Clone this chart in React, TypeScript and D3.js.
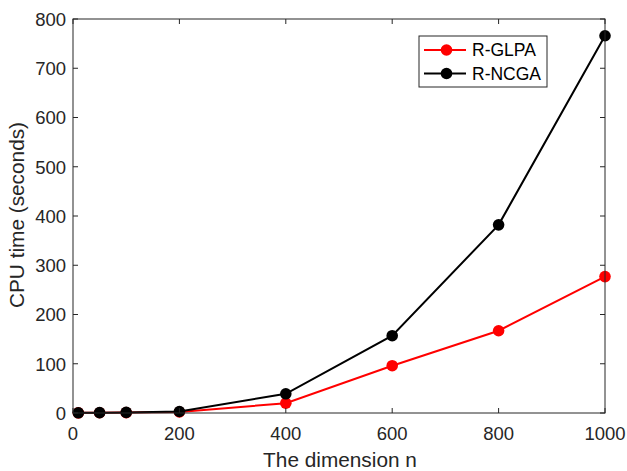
import React from 'react';
import * as d3 from 'd3';

const dims = [10, 50, 100, 200, 400, 600, 800, 1000];
const glpa = [0.3, 0.5, 0.8, 2, 20, 96, 167, 277];
const ncga = [0.4, 0.7, 1.2, 3, 39, 157, 382, 766];
const xTicks = [0, 200, 400, 600, 800, 1000];
const yTicks = [0, 100, 200, 300, 400, 500, 600, 700, 800];

const series = [
  { name: 'R-GLPA', color: '#ff0000', values: glpa },
  { name: 'R-NCGA', color: '#000000', values: ncga },
];

const W = 627;
const H = 471;
const margin = { left: 73, right: 22, top: 19, bottom: 58 };
const axisColor = '#262626';
const font = 'Liberation Sans, Arial, Helvetica, sans-serif';

export default function App() {
  const x = d3.scaleLinear().domain([0, 1000]).range([margin.left, W - margin.right]);
  const y = d3.scaleLinear().domain([0, 800]).range([H - margin.bottom, margin.top]);
  const line = d3
    .line<number>()
    .x((d, i) => x(dims[i]))
    .y(d => y(d));

  const x0 = x(0), x1 = x(1000), y0 = y(0), y1 = y(800);
  const tick = 5;

  return (
    <svg
      width={W}
      height={H}
      style={{ position: 'absolute', left: 0, top: 0, background: '#fff' }}
      fontFamily={font}
    >
      <rect x={0} y={0} width={W} height={H} fill="#fff" />
      {series.map(s => (
        <g key={s.name}>
          <path d={line(s.values) || ''} fill="none" stroke={s.color} strokeWidth={2} />
          {s.values.map((v, i) => (
            <circle key={i} cx={x(dims[i])} cy={y(v)} r={5.8} fill={s.color} />
          ))}
        </g>
      ))}
      <rect x={x0} y={y1} width={x1 - x0} height={y0 - y1} fill="none" stroke={axisColor} strokeWidth={1} />
      {xTicks.map(t => (
        <g key={t}>
          <line x1={x(t)} x2={x(t)} y1={y0} y2={y0 - tick} stroke={axisColor} />
          <line x1={x(t)} x2={x(t)} y1={y1} y2={y1 + tick} stroke={axisColor} />
          <text x={x(t)} y={y0 + 27} textAnchor="middle" fontSize={18.5} fill={axisColor}>
            {t}
          </text>
        </g>
      ))}
      {yTicks.map(t => (
        <g key={t}>
          <line x1={x0} x2={x0 + tick} y1={y(t)} y2={y(t)} stroke={axisColor} />
          <line x1={x1} x2={x1 - tick} y1={y(t)} y2={y(t)} stroke={axisColor} />
          <text x={x0 - 7} y={y(t) + 6.8} textAnchor="end" fontSize={18.5} fill={axisColor}>
            {t}
          </text>
        </g>
      ))}
      <text x={(x0 + x1) / 2 + 1} y={467} textAnchor="middle" fontSize={20.8} fill={axisColor}>
        The dimension n
      </text>
      <text
        transform={`translate(24,${(y0 + y1) / 2 - 1}) rotate(-90)`}
        textAnchor="middle"
        fontSize={20.8}
        fill={axisColor}
      >
        CPU time (seconds)
      </text>
      <g transform="translate(419,36)">
        <rect x={0} y={0} width={128} height={51} fill="#fff" stroke={axisColor} />
        {series.map((s, i) => (
          <g key={s.name} transform={`translate(0,${14 + i * 23.5})`}>
            <line x1={5} x2={47} y1={0} y2={0} stroke={s.color} strokeWidth={2} />
            <circle cx={27.5} cy={0} r={5.8} fill={s.color} />
            <text x={53} y={6.3} fontSize={17.5} fill="#000">
              {s.name}
            </text>
          </g>
        ))}
      </g>
    </svg>
  );
}
